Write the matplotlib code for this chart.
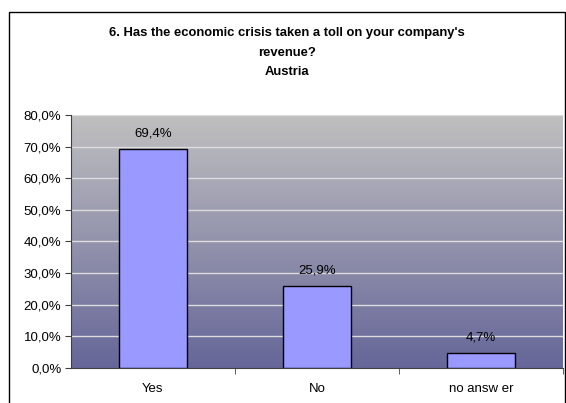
import numpy as np
import matplotlib.pyplot as plt
from matplotlib.colors import LinearSegmentedColormap
from matplotlib.patches import Rectangle
from matplotlib.ticker import FuncFormatter, FixedLocator

plt.rcParams['font.family'] = ['Liberation Sans', 'DejaVu Sans']

categories = ['Yes', 'No', 'no answ er']
values = [69.4, 25.9, 4.7]
labels = ['69,4%', '25,9%', '4,7%']
title = "6. Has the economic crisis taken a toll on your company's\nrevenue?\nAustria"

W, H = 566, 403
fig = plt.figure(figsize=(W / 100, H / 100), dpi=100)

# outer chart border
fig.patches.append(Rectangle((9 / W, -0.02), (565 - 9) / W, 1 - 12 / H + 0.02,
                             transform=fig.transFigure, fill=False,
                             edgecolor='black', linewidth=1.0))

ax = fig.add_axes([71 / W, 1 - 368 / H, (563 - 71) / W, (368 - 115) / H])

x = np.arange(len(categories))
ax.set_xlim(-0.5, len(categories) - 0.5)
ax.set_ylim(0, 80)

# gradient background, grey at top to slate blue at bottom
cmap = LinearSegmentedColormap.from_list('bg', ['#666699', '#c0c0c0'])
grad = np.linspace(0, 1, 256).reshape(-1, 1)
ax.imshow(grad, cmap=cmap, aspect='auto', origin='lower',
          extent=[-0.5, len(categories) - 0.5, 0, 80], zorder=0)

for yv in range(10, 81, 10):
    ax.axhline(yv, color='#dcdcdc', linewidth=1.0, zorder=1)

ax.bar(x, values, width=0.41, color='#9999ff', edgecolor='black',
       linewidth=1.0, zorder=3)

for xi, v, lab in zip(x, values, labels):
    ax.text(xi, v + 3.0, lab, ha='center', va='bottom', fontsize=9.5, zorder=4)

ax.yaxis.set_major_locator(FixedLocator(range(0, 81, 10)))
ax.yaxis.set_major_formatter(FuncFormatter(lambda v, p: f'{v:.1f}%'.replace('.', ',')))
ax.set_xticks(x)
ax.set_xticklabels(categories)
ax.set_xticks([0.5, 1.5, 2.5], minor=True)
ax.tick_params(axis='x', which='major', length=0, pad=11, labelsize=9.5)
ax.tick_params(axis='x', which='minor', length=4, color='#404040')
ax.tick_params(axis='y', length=4, labelsize=9.5, color='#404040', pad=3)

for side in ['top', 'right']:
    ax.spines[side].set_visible(False)
ax.spines['left'].set_color('#404040')
ax.spines['bottom'].set_color('#404040')

fig.text((9 + 565) / 2 / W, 1 - 27 / H, title, ha='center', va='top',
         fontsize=9.4, fontweight='bold', linespacing=1.85)

fig.savefig('out.png', dpi=100)
